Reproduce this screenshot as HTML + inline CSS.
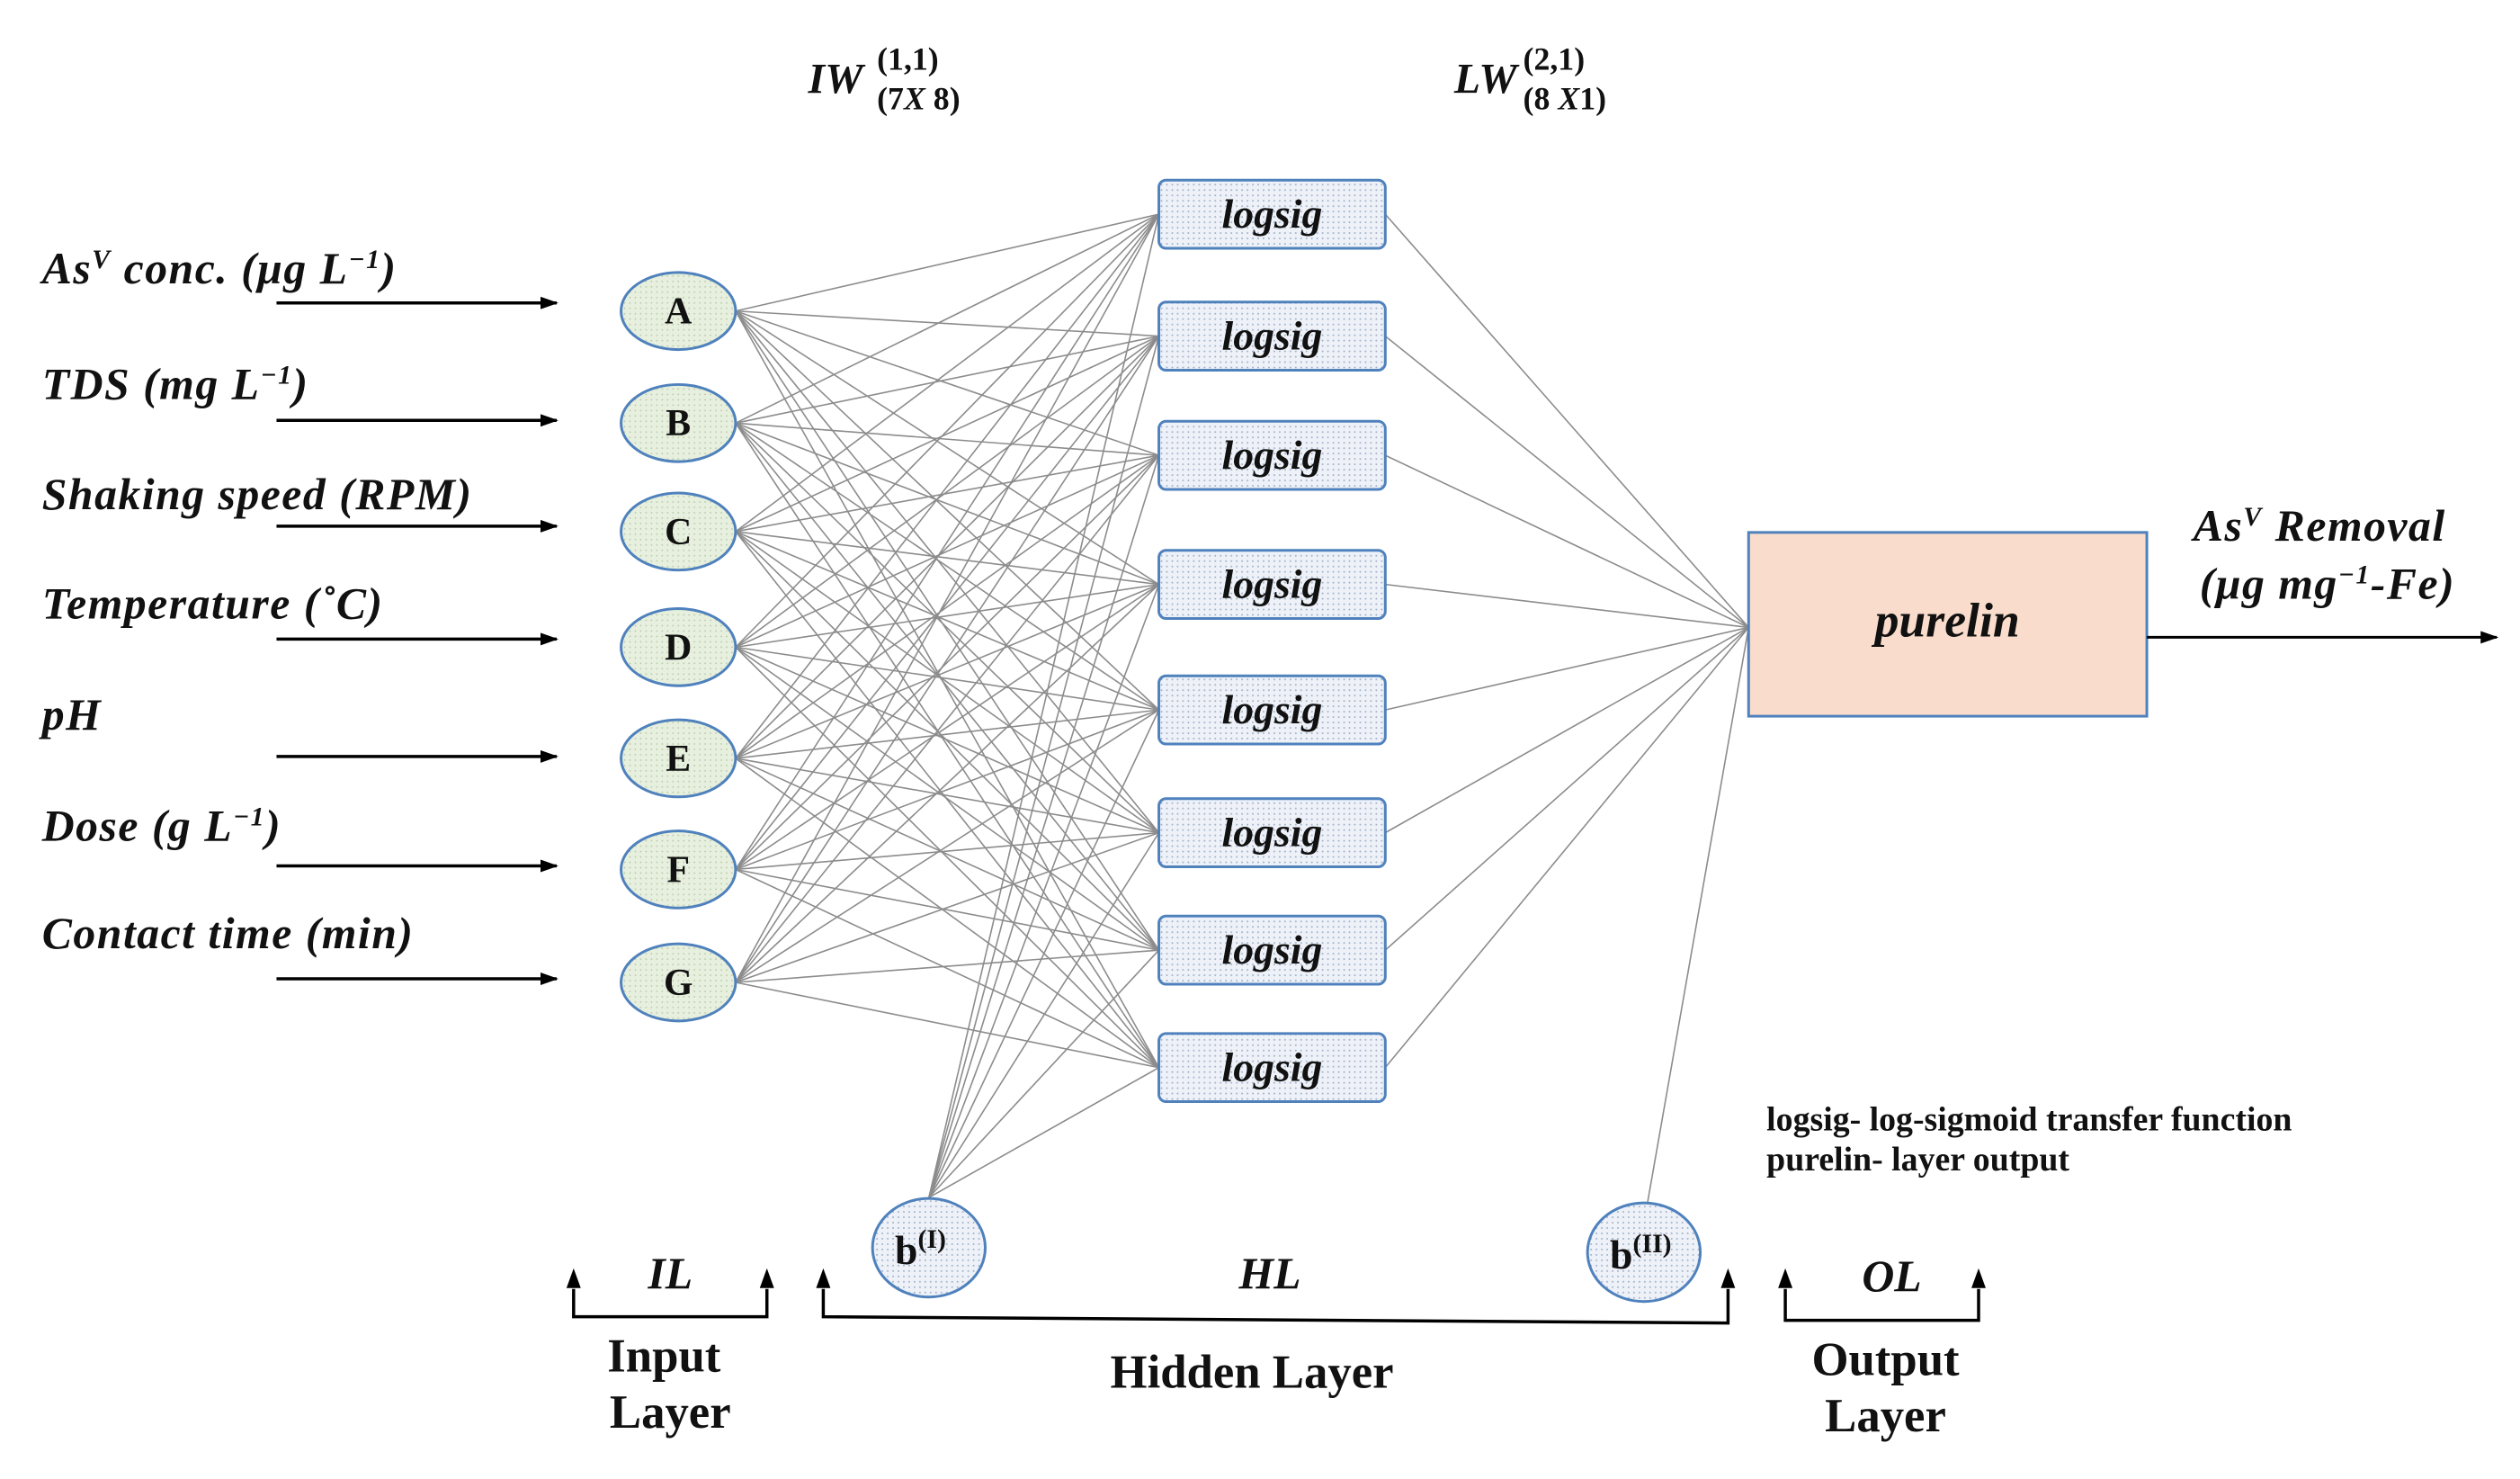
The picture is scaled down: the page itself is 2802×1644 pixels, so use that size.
<!DOCTYPE html>
<html><head><meta charset="utf-8"><style>
html,body{margin:0;padding:0;background:#fff;}
svg{display:block}
text{font-family:"Liberation Serif",serif;fill:#111}
.lab{font-size:50px;font-weight:bold;font-style:italic;letter-spacing:1.5px}
.bi{font-weight:bold;font-style:italic}
.b{font-weight:bold}
</style></head><body>
<svg id="s" width="2802" height="1644" viewBox="0 0 2816 1650" preserveAspectRatio="none" xmlns="http://www.w3.org/2000/svg">
<defs>
<pattern id="dots" width="6" height="6" patternUnits="userSpaceOnUse"><rect width="6" height="6" fill="#eef2f8"/><circle cx="2" cy="2" r="1" fill="#9fb0c8"/></pattern>
<pattern id="gdots" width="6" height="6" patternUnits="userSpaceOnUse"><rect width="6" height="6" fill="#e7f0de"/><circle cx="2" cy="2" r="0.9" fill="#b5c7a5"/></pattern>
<marker id="ah2" markerWidth="20" markerHeight="14" refX="18" refY="7" orient="auto" markerUnits="userSpaceOnUse"><path d="M0,0 L20,7 L0,14 z" fill="#000"/></marker>
</defs>
<g id="lines" stroke="#8c8c8c" stroke-width="1.6"></g>
<g id="shapes"></g>

<text class="lab" x="47" y="316">As<tspan dy="-17" font-size="30">V</tspan><tspan dy="17"> conc. (μg L</tspan><tspan dy="-17" font-size="30">−1</tspan><tspan dy="17">)</tspan></text>
<text class="lab" x="47" y="445">TDS (mg L<tspan dy="-17" font-size="30">−1</tspan><tspan dy="17">)</tspan></text>
<text class="lab" x="47" y="568">Shaking speed  (RPM)</text>
<text class="lab" x="47" y="690">Temperature (˚C)</text>
<text class="lab" x="47" y="814">pH</text>
<text class="lab" x="47" y="938">Dose (g L<tspan dy="-17" font-size="30">−1</tspan><tspan dy="17">)</tspan></text>
<text class="lab" x="47" y="1058">Contact time (min)</text>

<text class="bi" font-size="48" x="903" y="104">IW</text>
<text class="b" font-size="36" x="980" y="78">(1,1)</text>
<text class="b" font-size="36" x="980" y="122">(7<tspan font-style="italic">X</tspan> 8)</text>
<text class="bi" font-size="48" x="1625" y="104">LW</text>
<text class="b" font-size="36" x="1702" y="78">(2,1)</text>
<text class="b" font-size="36" x="1702" y="122">(8 <tspan font-style="italic">X</tspan>1)</text>

<text class="lab" x="2451" y="603">As<tspan dy="-17" font-size="30">V</tspan><tspan dy="17"> Removal</tspan></text>
<text class="lab" x="2458" y="668">(μg mg<tspan dy="-17" font-size="30">−1</tspan><tspan dy="17">-Fe)</tspan></text>
<line x1="2399" y1="711" x2="2790" y2="711" stroke="#000" stroke-width="3" marker-end="url(#ah2)"/>

<text class="b" font-size="38" x="1974" y="1261">logsig- log-sigmoid transfer function</text>
<text class="b" font-size="38" x="1974" y="1306">purelin- layer output</text>

<g stroke="#000" stroke-width="3.5" fill="none">
<path d="M641,1438 V1469 H857 V1438"/>
<path d="M920,1438 V1469 L1931,1476 V1438"/>
<path d="M1995,1438 V1473 H2211 V1438"/>
</g>
<g fill="#000">
<path d="M641,1415 l-8,22 h16z"/><path d="M857,1415 l-8,22 h16z"/>
<path d="M920,1415 l-8,22 h16z"/><path d="M1931,1415 l-8,22 h16z"/>
<path d="M1995,1415 l-8,22 h16z"/><path d="M2211,1415 l-8,22 h16z"/>
</g>
<text class="bi" font-size="50" x="749" y="1437" text-anchor="middle">IL</text>
<text class="bi" font-size="50" x="1419" y="1437" text-anchor="middle">HL</text>
<text class="bi" font-size="50" x="2114" y="1440" text-anchor="middle">OL</text>
<text class="b" font-size="53" x="742" y="1530" text-anchor="middle">Input</text>
<text class="b" font-size="53" x="749" y="1593" text-anchor="middle">Layer</text>
<text class="b" font-size="53" x="1399" y="1548" text-anchor="middle">Hidden Layer</text>
<text class="b" font-size="53" x="2107" y="1534" text-anchor="middle">Output</text>
<text class="b" font-size="53" x="2107" y="1597" text-anchor="middle">Layer</text>
</svg>
<script>
var NS="http://www.w3.org/2000/svg",s=document.getElementById('s'),L=document.getElementById('lines'),S=document.getElementById('shapes');
function el(p,t,a,txt){var e=document.createElementNS(NS,t);for(var k in a)e.setAttribute(k,a[k]);if(txt)e.textContent=txt;p.appendChild(e);return e;}
var iy=[347,472,593,722,846,970,1096],ay=[338,469,587,713,844,966,1092],hy=[239,375,508,652,792,929,1060,1191],letters="ABCDEFG";
var cx=758,rx=64,ry=43,hx=1295,hw=253,hh=76,px=1954,py=700;
iy.forEach(function(y){hy.forEach(function(h){el(L,'line',{x1:cx+rx,y1:y,x2:hx,y2:h});});});
hy.forEach(function(h){el(L,'line',{x1:1038,y1:1336,x2:hx,y2:h});el(L,'line',{x1:hx+hw,y1:h,x2:px,y2:py});});
el(L,'line',{x1:1841,y1:1342,x2:px,y2:py});
ay.forEach(function(y){el(S,'line',{x1:309,y1:y,x2:622,y2:y,stroke:'#000','stroke-width':3.5,'marker-end':'url(#ah2)'});});
iy.forEach(function(y,i){el(S,'ellipse',{cx:cx,cy:y,rx:rx,ry:ry,fill:'url(#gdots)',stroke:'#4f81bd','stroke-width':3});
el(S,'text',{x:cx,y:y+14,'text-anchor':'middle','font-size':42,'font-weight':'bold'},letters[i]);});
hy.forEach(function(h){el(S,'rect',{x:hx,y:h-hh/2,width:hw,height:hh,rx:8,fill:'url(#dots)',stroke:'#4f81bd','stroke-width':3});
el(S,'text',{x:hx+hw/2,y:h+15,'text-anchor':'middle','font-size':46,'font-weight':'bold','font-style':'italic'},'logsig');});
el(S,'rect',{x:1954,y:594,width:445,height:205,fill:'#f9dccb',stroke:'#4f81bd','stroke-width':3});
el(S,'text',{x:2176,y:710,'text-anchor':'middle','font-size':54,'font-weight':'bold','font-style':'italic'},'purelin');
[[1038,1392,'I'],[1837,1397,'II']].forEach(function(b){el(S,'ellipse',{cx:b[0],cy:b[1],rx:63,ry:55,fill:'url(#dots)',stroke:'#4f81bd','stroke-width':3});
var t=el(S,'text',{x:b[0]-38,y:b[1]+18,'font-size':46,'font-weight':'bold'},'b');el(t,'tspan',{dy:-18,'font-size':30},'('+b[2]+')');});
</script>
</body></html>
